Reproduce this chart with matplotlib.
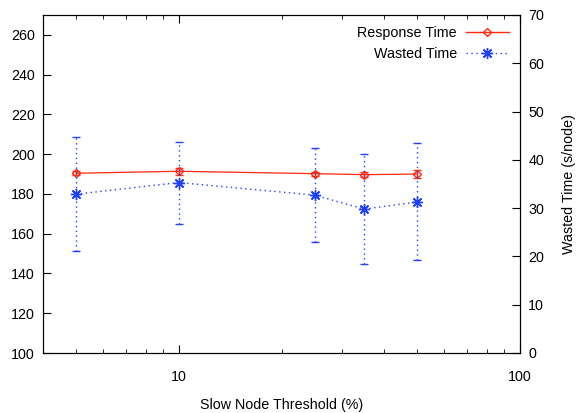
import matplotlib.pyplot as plt
from matplotlib.lines import Line2D
from matplotlib.ticker import LogLocator, NullFormatter, FixedLocator

plt.rcParams['font.family'] = ['Liberation Sans', 'DejaVu Sans']
plt.rcParams['font.size'] = 10.3

threshold = [5, 10, 25, 35, 50]
response = [190.4, 191.4, 190.2, 189.7, 190.0]
response_err = [1.0, 1.8, 1.0, 1.2, 2.0]
wasted = [32.9, 35.3, 32.7, 29.8, 31.3]
wasted_err = [11.8, 8.5, 9.8, 11.4, 12.1]

red = '#ff2a10'
blue = '#1f3fff'

fig = plt.figure(figsize=(5.81, 4.13), dpi=100)
ax = fig.add_axes([43 / 581, 1 - 353 / 413, (520 - 43) / 581, (353 - 15) / 413])
ax2 = ax.twinx()

ax.errorbar(threshold, response, yerr=response_err, color=red, lw=0.9,
            marker='D', ms=4, mfc='none', mec=red, mew=1, capsize=3, elinewidth=1)
ax2.errorbar(threshold, wasted, yerr=wasted_err, color=blue, lw=1, ls=(0, (1, 2.5)),
             marker=(8, 2, 0), ms=8, mew=1, capsize=3, elinewidth=1)
ax2.containers[0].lines[2][0].set_linestyle((0, (1, 2.5)))

ax.set_xscale('log')
ax.set_xlim(4, 100)
ax.set_ylim(100, 270)
ax2.set_ylim(0, 70)
ax.set_yticks(range(100, 261, 20))
ax2.set_yticks(range(0, 71, 10))
ax.xaxis.set_major_locator(FixedLocator([10, 100]))
ax.set_xticklabels(['10', '100'])
ax.xaxis.set_minor_locator(LogLocator(base=10, subs=range(2, 10)))
ax.xaxis.set_minor_formatter(NullFormatter())

ax.tick_params(axis='x', which='both', direction='in', top=True)
ax.tick_params(axis='x', which='major', length=6, pad=12)
ax.tick_params(axis='x', which='minor', length=3)
ax.tick_params(axis='y', direction='in', length=6, right=False, pad=6)
ax2.tick_params(axis='y', direction='in', length=6, pad=6)

ax.set_xlabel('Slow Node Threshold (%)', labelpad=10)
ax2.set_ylabel('Wasted Time (s/node)', labelpad=13)

handles = [
    Line2D([], [], color=red, lw=1, marker='D', ms=4, mfc='none', mec=red),
    Line2D([], [], color=blue, lw=1, ls=(0, (1, 2.5)), marker=(8, 2, 0), ms=8),
]
ax.legend(handles, ['Response Time', 'Wasted Time'], loc='upper right',
          frameon=False, markerfirst=False, handlelength=3, borderaxespad=0.4,
          labelspacing=0.45, handletextpad=0.6)

fig.savefig('out.png', dpi=100)
